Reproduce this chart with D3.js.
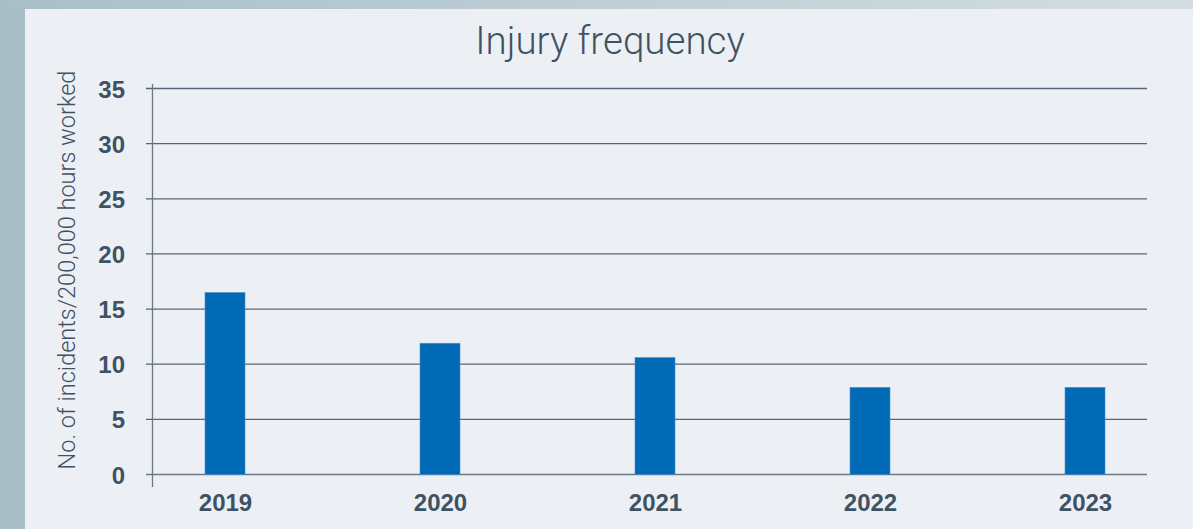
<!DOCTYPE html>
<html><head><meta charset="utf-8">
<script src="https://cdn.jsdelivr.net/npm/d3@7"></script>
<style>body{margin:0;background:#ecf0f4;}svg{display:block;}</style>
</head><body>
<svg id="chart" width="1193" height="529"></svg>
<script>
const years = ["2019","2020","2021","2022","2023"];
const values = [16.5, 11.9, 10.6, 7.9, 7.9];
const yTicks = [0,5,10,15,20,25,30,35];
const title = "Injury frequency";
const yLabel = "No. of incidents/200,000 hours worked";

const svg = d3.select("#chart");
const defs = svg.append("defs");
const g1 = defs.append("linearGradient").attr("id","topg").attr("x1","0").attr("x2","1");
g1.append("stop").attr("offset","0").attr("stop-color","#a9bfc7");
g1.append("stop").attr("offset","1").attr("stop-color","#d3dee3");
svg.append("rect").attr("width",1193).attr("height",529).attr("fill","#a9bfc7");
svg.append("rect").attr("width",1193).attr("height",9).attr("fill","url(#topg)");
svg.append("rect").attr("x",25).attr("y",9).attr("width",1168).attr("height",520).attr("fill","#ecf0f4");

const textCol = "#3f5264";
const y = d3.scaleLinear().domain([0,35]).range([474.5,88.5]);
const x = d3.scalePoint().domain(years).range([225,1085]);
const barW = 40;

// gridlines
svg.append("g").selectAll("line").data(yTicks).join("line")
  .attr("x1",146).attr("x2",1147)
  .attr("y1",d=>y(d)).attr("y2",d=>y(d))
  .attr("stroke", d=> d===0 ? "#6b7987" : "#56667a").attr("stroke-width",1.3);

// y axis labels
const yAxis = d3.axisLeft(y).tickValues(yTicks).tickSize(0).tickPadding(0);
const ya = svg.append("g").attr("transform","translate(125,0)").call(yAxis);
ya.select(".domain").remove();
ya.selectAll("text").attr("font-family","Liberation Sans, Arial, sans-serif")
  .attr("font-weight","bold").attr("font-size",24).attr("fill",textCol).attr("dy","0.36em");

// bars
svg.append("g").selectAll("rect").data(values).join("rect")
  .attr("x",(d,i)=>x(years[i])-barW/2).attr("width",barW)
  .attr("y",d=>y(d)).attr("height",d=>y(0)-y(d))
  .attr("fill","#006ab6").attr("stroke","#4a90cc").attr("stroke-width",0.6);

// vertical axis line
svg.append("line").attr("x1",152.5).attr("x2",152.5).attr("y1",84).attr("y2",487)
  .attr("stroke","#6b7987").attr("stroke-width",1.3);

// x labels
const xAxis = d3.axisBottom(x).tickSize(0).tickPadding(0);
const xa = svg.append("g").attr("transform","translate(0,511)").call(xAxis);
xa.select(".domain").remove();
xa.selectAll("text").attr("font-family","Liberation Sans, Arial, sans-serif")
  .attr("font-weight","bold").attr("font-size",24).attr("fill",textCol).attr("dy","0").attr("y",0);

// title
svg.append("text").attr("x",610).attr("y",54).attr("text-anchor","middle")
  .attr("font-family","Roboto, sans-serif").attr("font-weight",300).attr("font-size",38.5)
  .attr("fill",textCol).text(title);

// y label
svg.append("text").attr("transform","translate(75,270) rotate(-90)").attr("text-anchor","middle")
  .attr("font-family","Roboto, sans-serif").attr("font-weight",300).attr("font-size",23.5)
  .attr("fill",textCol).text(yLabel);
</script>
</body></html>
